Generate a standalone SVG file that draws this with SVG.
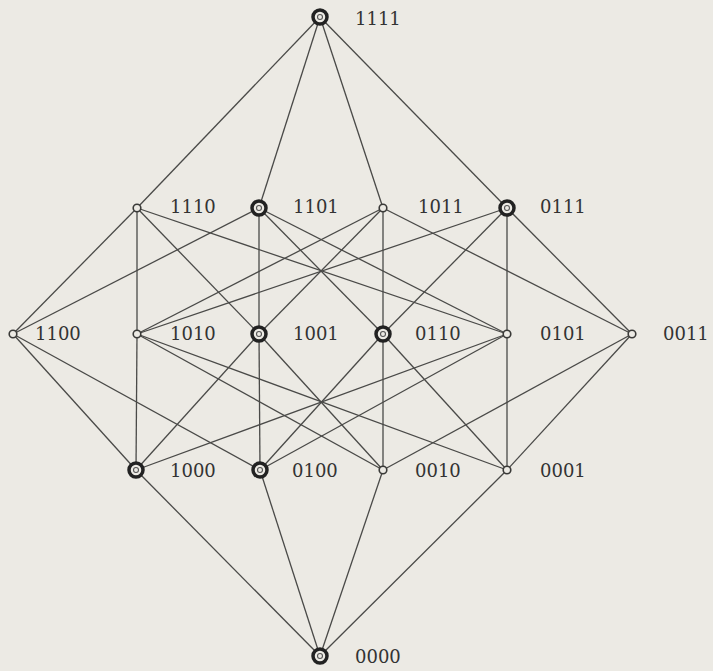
<svg xmlns="http://www.w3.org/2000/svg" width="713" height="671" viewBox="0 0 713 671">
<style>
.e{stroke:#4a4a48;stroke-width:1.3;fill:none}
.s{fill:#eceae4;stroke:#3a3a38;stroke-width:1.6}
.b{fill:#eceae4;stroke:#222;stroke-width:3.5}
.bi{fill:none;stroke:#555;stroke-width:1.1}
text{font-family:"DejaVu Serif","Liberation Serif",serif;font-size:18px;fill:#333}
</style>
<rect width="713" height="671" fill="#eceae4"/>
<g id="edges" class="e">
<line x1="320" y1="17" x2="137" y2="208"/>
<line x1="320" y1="17" x2="259" y2="208"/>
<line x1="320" y1="17" x2="383" y2="208"/>
<line x1="320" y1="17" x2="507" y2="208"/>
<line x1="137" y1="208" x2="13" y2="334"/>
<line x1="137" y1="208" x2="137" y2="334"/>
<line x1="137" y1="208" x2="259" y2="334"/>
<line x1="137" y1="208" x2="507" y2="334"/>
<line x1="259" y1="208" x2="13" y2="334"/>
<line x1="259" y1="208" x2="259" y2="334"/>
<line x1="259" y1="208" x2="383" y2="334"/>
<line x1="259" y1="208" x2="507" y2="334"/>
<line x1="383" y1="208" x2="137" y2="334"/>
<line x1="383" y1="208" x2="259" y2="334"/>
<line x1="383" y1="208" x2="383" y2="334"/>
<line x1="383" y1="208" x2="632" y2="334"/>
<line x1="507" y1="208" x2="137" y2="334"/>
<line x1="507" y1="208" x2="383" y2="334"/>
<line x1="507" y1="208" x2="507" y2="334"/>
<line x1="507" y1="208" x2="632" y2="334"/>
<line x1="136" y1="470" x2="13" y2="334"/>
<line x1="136" y1="470" x2="137" y2="334"/>
<line x1="136" y1="470" x2="259" y2="334"/>
<line x1="136" y1="470" x2="507" y2="334"/>
<line x1="260" y1="470" x2="13" y2="334"/>
<line x1="260" y1="470" x2="259" y2="334"/>
<line x1="260" y1="470" x2="383" y2="334"/>
<line x1="260" y1="470" x2="507" y2="334"/>
<line x1="383" y1="470" x2="137" y2="334"/>
<line x1="383" y1="470" x2="259" y2="334"/>
<line x1="383" y1="470" x2="383" y2="334"/>
<line x1="383" y1="470" x2="632" y2="334"/>
<line x1="507" y1="470" x2="137" y2="334"/>
<line x1="507" y1="470" x2="383" y2="334"/>
<line x1="507" y1="470" x2="507" y2="334"/>
<line x1="507" y1="470" x2="632" y2="334"/>
<line x1="320" y1="656" x2="136" y2="470"/>
<line x1="320" y1="656" x2="260" y2="470"/>
<line x1="320" y1="656" x2="383" y2="470"/>
<line x1="320" y1="656" x2="507" y2="470"/>
</g>
<g id="n1111"><circle class="b" cx="320" cy="17" r="7"/><circle class="bi" cx="320" cy="17" r="2.5"/><text x="355" y="25">1111</text></g>
<g id="n1110"><circle class="s" cx="137" cy="208" r="3.8"/><text x="170" y="213">1110</text></g>
<g id="n1101"><circle class="b" cx="259" cy="208" r="7"/><circle class="bi" cx="259" cy="208" r="2.5"/><text x="293" y="213">1101</text></g>
<g id="n1011"><circle class="s" cx="383" cy="208" r="3.8"/><text x="418" y="213">1011</text></g>
<g id="n0111"><circle class="b" cx="507" cy="208" r="7"/><circle class="bi" cx="507" cy="208" r="2.5"/><text x="540" y="213">0111</text></g>
<g id="n1100"><circle class="s" cx="13" cy="334" r="3.8"/><text x="35" y="340">1100</text></g>
<g id="n1010"><circle class="s" cx="137" cy="334" r="3.8"/><text x="170" y="340">1010</text></g>
<g id="n1001"><circle class="b" cx="259" cy="334" r="7"/><circle class="bi" cx="259" cy="334" r="2.5"/><text x="293" y="340">1001</text></g>
<g id="n0110"><circle class="b" cx="383" cy="334" r="7"/><circle class="bi" cx="383" cy="334" r="2.5"/><text x="415" y="340">0110</text></g>
<g id="n0101"><circle class="s" cx="507" cy="334" r="3.8"/><text x="540" y="340">0101</text></g>
<g id="n0011"><circle class="s" cx="632" cy="334" r="3.8"/><text x="663" y="340">0011</text></g>
<g id="n1000"><circle class="b" cx="136" cy="470" r="7"/><circle class="bi" cx="136" cy="470" r="2.5"/><text x="170" y="477">1000</text></g>
<g id="n0100"><circle class="b" cx="260" cy="470" r="7"/><circle class="bi" cx="260" cy="470" r="2.5"/><text x="292" y="477">0100</text></g>
<g id="n0010"><circle class="s" cx="383" cy="470" r="3.8"/><text x="415" y="477">0010</text></g>
<g id="n0001"><circle class="s" cx="507" cy="470" r="3.8"/><text x="540" y="477">0001</text></g>
<g id="n0000"><circle class="b" cx="320" cy="656" r="7"/><circle class="bi" cx="320" cy="656" r="2.5"/><text x="355" y="663">0000</text></g>
</svg>
